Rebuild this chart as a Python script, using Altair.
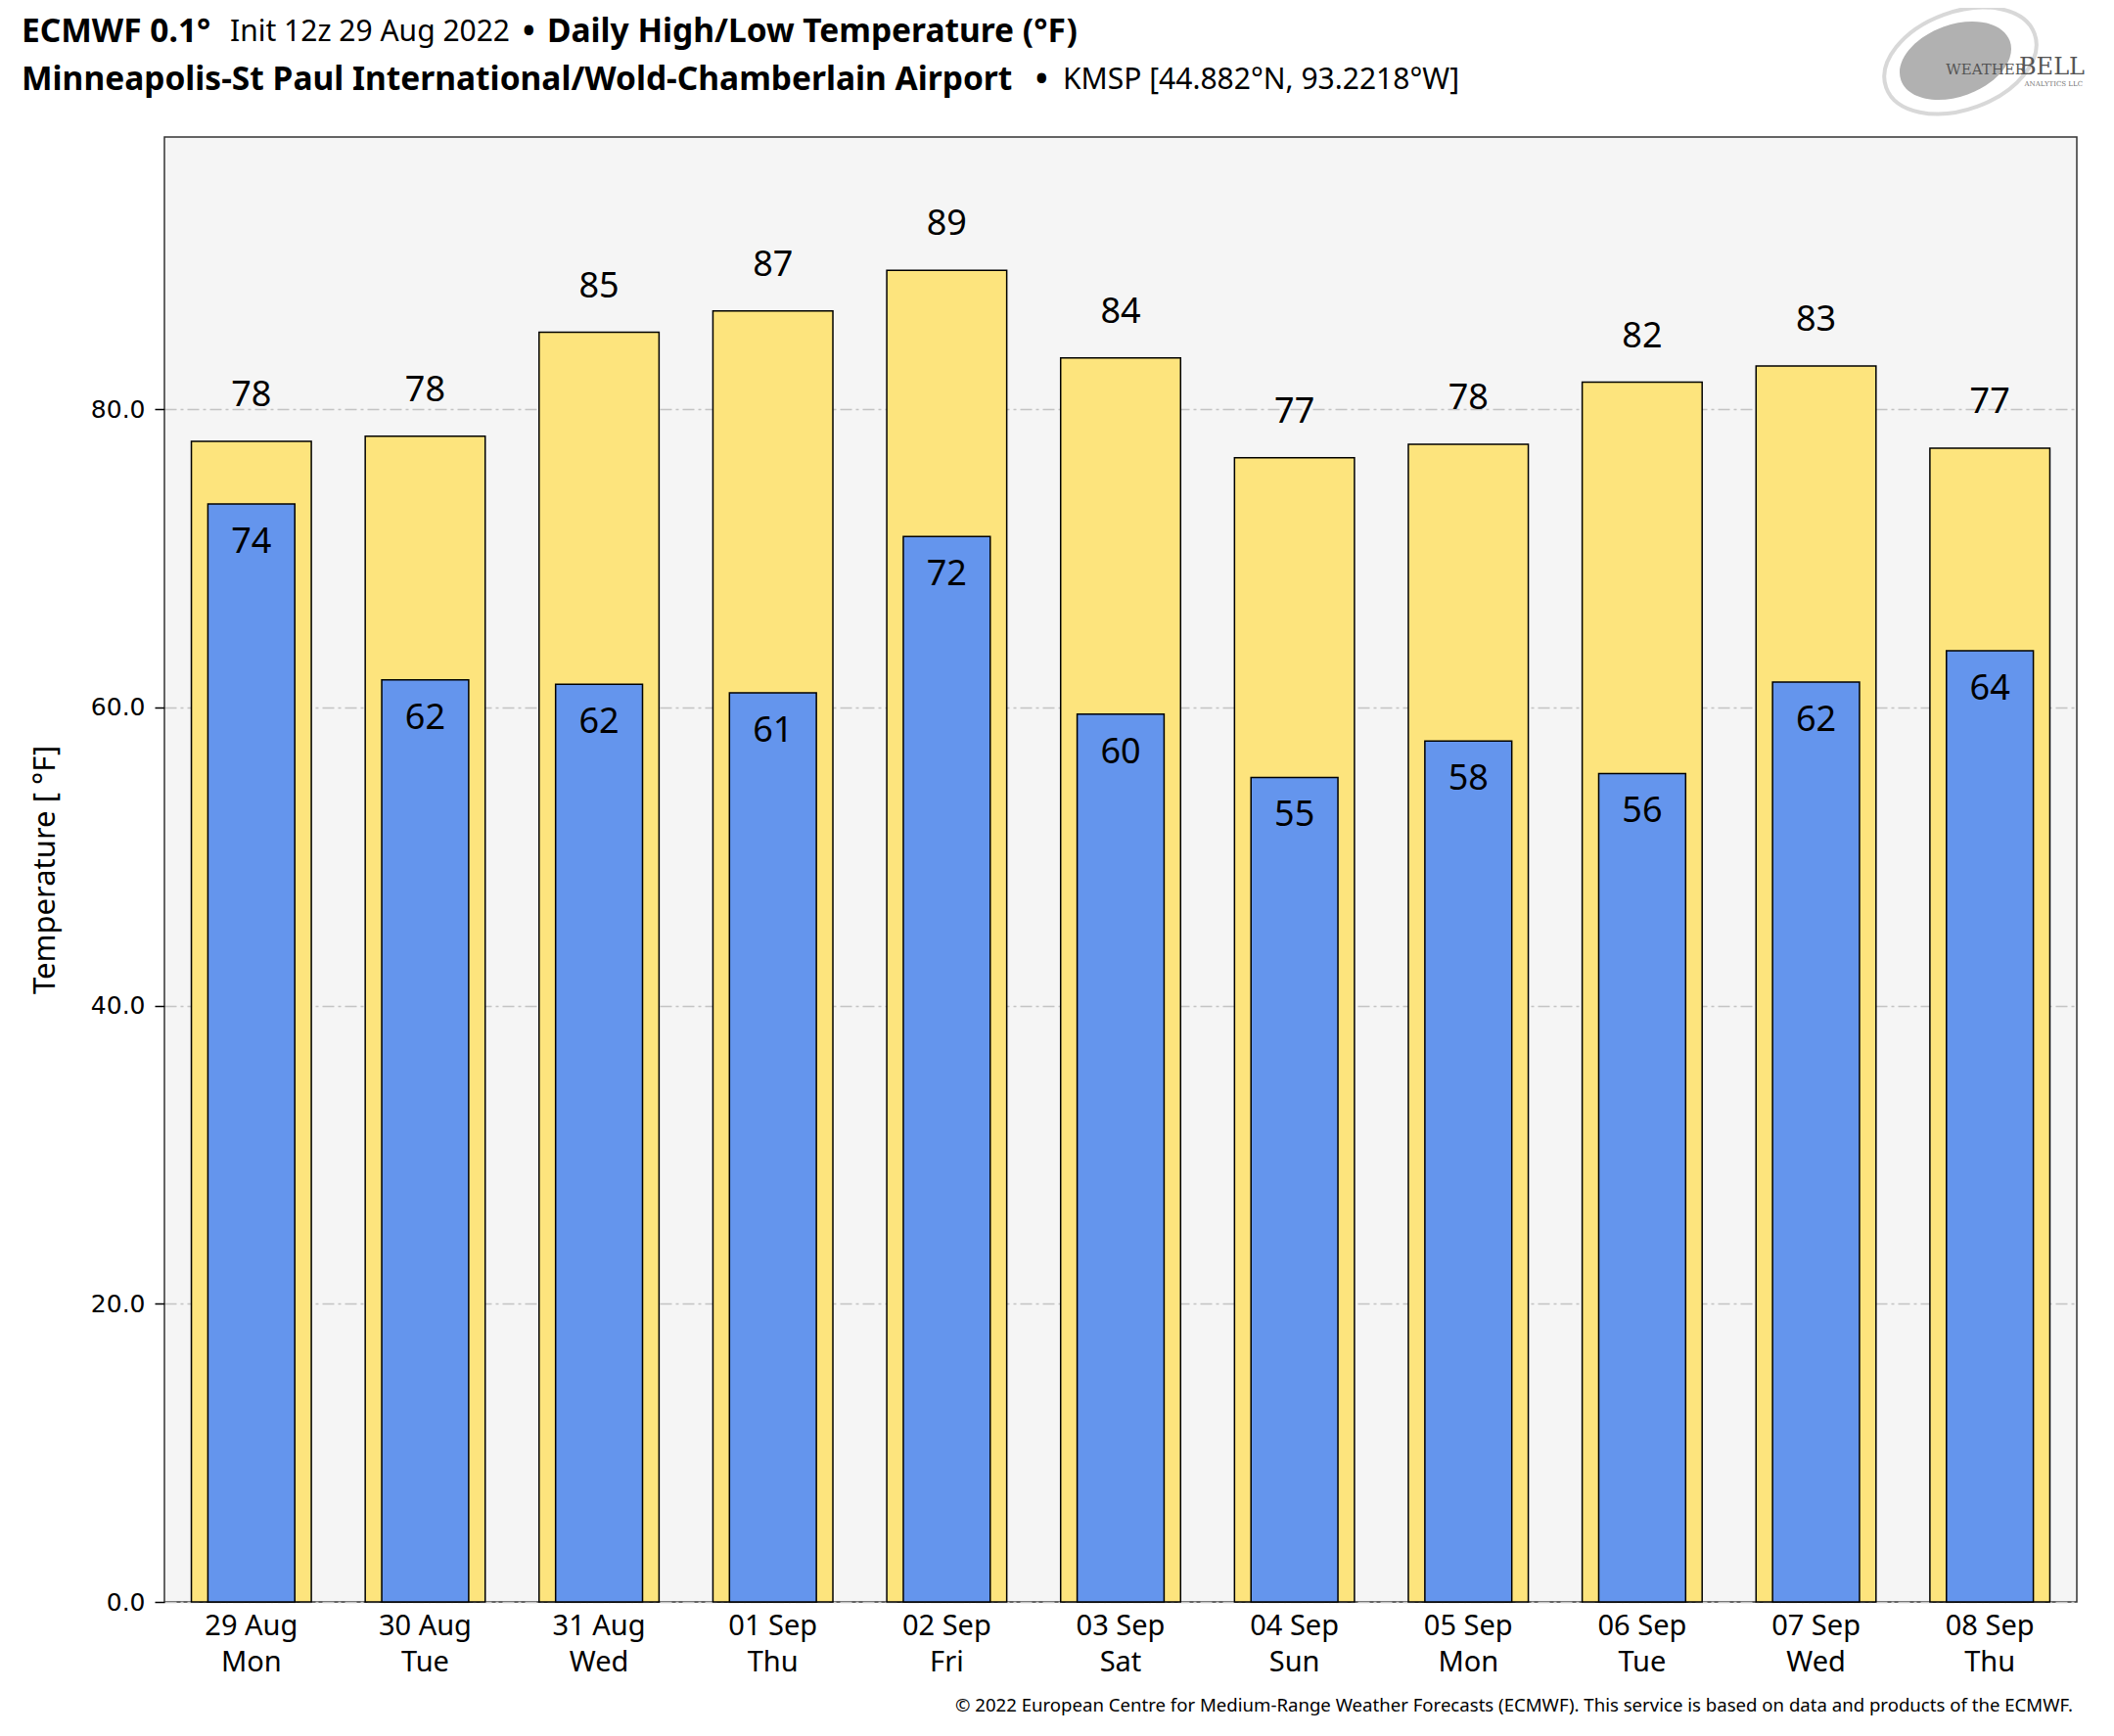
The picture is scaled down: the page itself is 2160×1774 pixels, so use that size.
import altair as alt
import pandas as pd

# ---- data ----
days = ["29 Aug", "30 Aug", "31 Aug", "01 Sep", "02 Sep", "03 Sep",
        "04 Sep", "05 Sep", "06 Sep", "07 Sep", "08 Sep"]
weekdays = ["Mon", "Tue", "Wed", "Thu", "Fri", "Sat", "Sun", "Mon", "Tue", "Wed", "Thu"]
high = [77.85, 78.19, 85.16, 86.6, 89.32, 83.45, 76.74, 77.65, 81.81, 82.9, 77.38]
low = [73.65, 61.84, 61.56, 60.97, 71.47, 59.55, 55.3, 57.74, 55.57, 61.7, 63.8]
high_labels = [78, 78, 85, 87, 89, 84, 77, 78, 82, 83, 77]
low_labels = [74, 62, 62, 61, 72, 60, 55, 58, 56, 62, 64]
y_ticks = [0, 20, 40, 60, 80]
y_max = 98.26

df = pd.DataFrame({
    "key": [f"{d}|{w}" for d, w in zip(days, weekdays)],
    "high": high,
    "low": low,
    "high_label": [str(v) for v in high_labels],
    "low_label": [str(v) for v in low_labels],
})

YELLOW = "#FDE47D"
BLUE = "#6495ED"
FONT = "Noto Sans"

x_enc = alt.X("key:N", sort=None,
              scale=alt.Scale(paddingInner=0, paddingOuter=0),
              axis=alt.Axis(title=None, labelExpr="split(datum.value, '|')",
                            labelFont=FONT, labelFontSize=29, labelColor="black",
                            labelLineHeight=37, labelPadding=10, labelAngle=0,
                            ticks=False, domain=False, grid=False))
y_scale = alt.Scale(domain=[0, y_max], nice=False, zero=True)
y_axis = alt.Axis(title="Temperature [ °F]", titleFont=FONT, titleFontSize=31,
                  titleFontWeight="normal", titleColor="black", titlePadding=30,
                  values=y_ticks, format=".1f", labelFont="DejaVu Sans",
                  labelFontSize=25, labelColor="black", labelPadding=10,
                  tickColor="black", tickSize=10, tickWidth=1.5, domain=False,
                  grid=True, gridColor="#c4c4c4", gridDash=[12, 4, 3, 4], gridWidth=1.5)

base = alt.Chart(df)

high_bars = base.mark_bar(color=YELLOW, stroke="black", strokeWidth=1.5,
                          width=alt.RelativeBandSize(0.69)).encode(
    x=x_enc, y=alt.Y("high:Q", scale=y_scale, axis=y_axis))
low_bars = base.mark_bar(color=BLUE, stroke="black", strokeWidth=1.5,
                         width=alt.RelativeBandSize(0.5)).encode(
    x=x_enc, y=alt.Y("low:Q"))
high_text = base.mark_text(font=FONT, fontSize=36, color="black",
                           baseline="alphabetic", dy=-36).encode(
    x=x_enc, y=alt.Y("high:Q"), text="high_label:N")
low_text = base.mark_text(font=FONT, fontSize=36, color="black",
                          baseline="alphabetic", dy=50).encode(
    x=x_enc, y=alt.Y("low:Q"), text="low_label:N")

one = pd.DataFrame({"a": [0]})


def label(text, x, y, size=30, weight="normal", align="left", color="black",
          font=FONT, baseline="middle"):
    return alt.Chart(one).mark_text(text=text, font=font, fontSize=size,
                                    fontWeight=weight, align=align, color=color,
                                    baseline=baseline).encode(
        x=alt.value(x), y=alt.value(y))


B = 33.5
L1 = -107
L2 = -58
titles = [
    label("ECMWF 0.1°", -146, L1, size=B, weight="bold"),
    label("Init 12z 29 Aug 2022", 67, L1),
    label("•", 366, L1, size=B, weight="bold"),
    label("Daily High/Low Temperature (°F)", 391, L1, size=B, weight="bold"),
    label("Minneapolis-St Paul International/Wold-Chamberlain Airport", -146, L2,
          size=B, weight="bold"),
    label("•", 890, L2, size=B, weight="bold"),
    label("KMSP [44.882°N, 93.2218°W]", 918, L2),
    label("© 2022 European Centre for Medium-Range Weather Forecasts (ECMWF). "
          "This service is based on data and products of the ECMWF.",
          1950, 1603, size=18.6, align="right"),
]

ellipse = "M -1 0 A 1 0.62 0 1 0 1 0 A 1 0.62 0 1 0 -1 0 Z"
logo = [
    alt.Chart(one).mark_point(shape=ellipse, filled=False, stroke="#c8c8c8",
                              strokeWidth=4, size=26000, angle=340).encode(
        x=alt.value(1835), y=alt.value(-78)),
    alt.Chart(one).mark_point(shape=ellipse, filled=True, fill="#a8a8a8",
                              opacity=0.9, size=14000, angle=340).encode(
        x=alt.value(1830), y=alt.value(-78)),
    label("WEATHER", 1902, -64, size=15, color="#555555", font="DejaVu Serif",
          baseline="alphabetic", align="right"),
    label("BELL", 1962, -64, size=24, color="#555555", font="DejaVu Serif",
          baseline="alphabetic", align="right"),
    label("ANALYTICS LLC", 1960, -52, size=7, color="#777777", font="DejaVu Serif",
          baseline="alphabetic", align="right"),
]

chart = alt.layer(high_bars, low_bars, high_text, low_text, *titles, *logo).properties(
    width=1954, height=1497,
    autosize=alt.AutoSizeParams(type="none"),
    padding={"left": 160, "top": 132, "right": 30, "bottom": 129},
).configure_view(fill="#f5f5f5", stroke="#333333", strokeWidth=1.5)

chart.save("out.html", embed_options={"renderer": "svg", "actions": False})
